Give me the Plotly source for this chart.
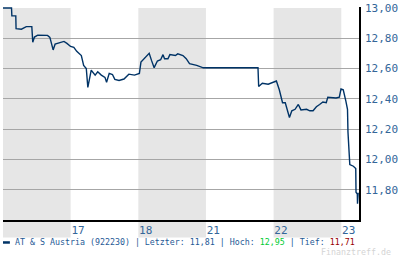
import plotly.graph_objects as go

# time as fractional trading day (0 = start of day "16"), price in EUR
t = [0.000, 0.126, 0.131, 0.189, 0.193, 0.272, 0.344, 0.426, 0.440, 0.465, 0.513, 0.658, 0.693, 0.741,
     0.770, 0.828, 0.901, 0.945, 0.999, 1.047, 1.090, 1.158, 1.192, 1.231, 1.254, 1.304, 1.362, 1.400,
     1.453, 1.507, 1.531, 1.570, 1.618, 1.653, 1.715, 1.788, 1.860, 1.943, 2.016, 2.039, 2.089, 2.161,
     2.195, 2.234, 2.282, 2.330, 2.365, 2.388, 2.438, 2.467, 2.548, 2.583, 2.660, 2.708, 2.757, 2.839,
     2.863, 2.961, 3.769, 3.779, 3.833, 3.920, 4.001, 4.041, 4.084, 4.132, 4.172, 4.205, 4.234, 4.269,
     4.317, 4.365, 4.404, 4.487, 4.535, 4.583, 4.632, 4.680, 4.728, 4.778, 4.801, 4.923, 4.971, 4.996,
     5.029, 5.068, 5.092, 5.099, 5.116, 5.126, 5.179, 5.214, 5.218, 5.237, 5.240, 5.250]
price = [13.000, 13.000, 12.948, 12.948, 12.863, 12.860, 12.877, 12.877, 12.774, 12.808, 12.821, 12.819,
         12.806, 12.723, 12.761, 12.768, 12.779, 12.766, 12.746, 12.740, 12.714, 12.686, 12.621, 12.600,
         12.476, 12.589, 12.557, 12.579, 12.557, 12.542, 12.510, 12.568, 12.561, 12.529, 12.521, 12.531,
         12.563, 12.557, 12.568, 12.643, 12.669, 12.701, 12.654, 12.606, 12.650, 12.658, 12.692, 12.665,
         12.665, 12.692, 12.686, 12.697, 12.686, 12.665, 12.632, 12.626, 12.621, 12.605, 12.605, 12.482,
         12.503, 12.497, 12.508, 12.518, 12.460, 12.374, 12.374, 12.321, 12.277, 12.321, 12.331, 12.363,
         12.327, 12.331, 12.321, 12.321, 12.348, 12.363, 12.379, 12.374, 12.411, 12.406, 12.411, 12.465,
         12.460, 12.385, 12.331, 12.181, 12.019, 11.966, 11.955, 11.940, 11.783, 11.772, 11.708, 11.780]

day_starts = [0, 1, 2, 3, 4, 5]
day_labels = ["16", "17", "18", "21", "22", "23"]
shaded_days = [0, 2, 4]
y_ticks = [11.8, 12.0, 12.2, 12.4, 12.6, 12.8, 13.0]

W, H = 400, 258
L, R, T, B = 3, 35, 2, 38
x_range = [0, 5.262]
y_range = [11.6, 13.0065]
pw, ph = W - L - R, H - T - B

def py(pix_y):  # paper y from pixel y
    return (H - B - pix_y) / ph

def px(pix_x):
    return (pix_x - L) / pw

fig = go.Figure()
fig.add_trace(go.Scatter(x=t, y=price, mode="lines",
                         line=dict(color="#003366", width=1.4), hoverinfo="skip"))

shapes = []
for d in shaded_days:
    shapes.append(dict(type="rect", xref="x", yref="paper", x0=d, x1=d + 1,
                       y0=py(238), y1=py(3), fillcolor="#e6e6e6", line=dict(width=0), layer="below"))
# legend marker
shapes.append(dict(type="line", xref="paper", yref="paper", x0=px(3), x1=px(10),
                   y0=py(243), y1=py(243), line=dict(color="#003366", width=2.5)))

mono = "DejaVu Sans Mono"
legend_txt = ("AT &amp; S Austria (922230) | Letzter: 11,81 | Hoch: "
              "<span style='color:#00cc33'>12,95</span> | Tief: "
              "<span style='color:#990000'>11,71</span>")
annotations = [
    dict(text=legend_txt, xref="paper", yref="paper", x=px(13.5), y=py(243),
         xanchor="left", yanchor="middle", showarrow=False,
         font=dict(family=mono, size=8.3, color="#1f5a96")),
    dict(text="Finanztreff.de", xref="paper", yref="paper", x=px(400), y=py(253),
         xanchor="right", yanchor="middle", showarrow=False,
         font=dict(family=mono, size=8.3, color="#d4d4d4")),
]

fig.update_layout(
    width=W, height=H, margin=dict(l=L, r=R, t=T, b=B),
    paper_bgcolor="white", plot_bgcolor="white",
    showlegend=False, separators=",.",
    shapes=shapes, annotations=annotations,
    xaxis=dict(range=x_range, showgrid=False, zeroline=False,
               tickvals=day_starts[1:], ticktext=day_labels[1:],
               ticklabelposition="outside right", ticks="", ticklabelstandoff=-1,
               ticklabeloverflow="allow",
               tickfont=dict(family=mono, size=11, color="#336699"),
               showline=True, linecolor="black", linewidth=1.5),
    yaxis=dict(range=y_range, side="right", tickvals=y_ticks, tickformat=".2f",
               showgrid=True, gridcolor="#a6a6a6", gridwidth=1, zeroline=False,
               ticks="", ticklabelstandoff=2, ticklabeloverflow="allow",
               tickfont=dict(family=mono, size=11, color="#336699"),
               showline=True, linecolor="black", linewidth=1.5),
)

fig.write_html("out.html")
